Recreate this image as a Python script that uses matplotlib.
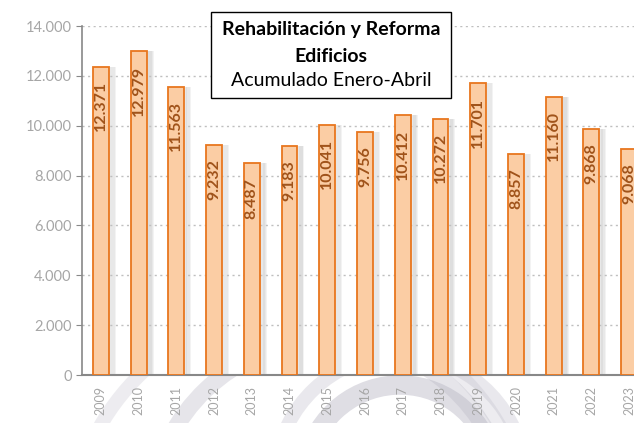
import matplotlib.pyplot as plt
import numpy as np
from matplotlib.ticker import FuncFormatter
from matplotlib.patches import Arc

years = ['2009', '2010', '2011', '2012', '2013', '2014', '2015', '2016',
         '2017', '2018', '2019', '2020', '2021', '2022', '2023']
values = [12371, 12979, 11563, 9232, 8487, 9183, 10041, 9756,
          10412, 10272, 11701, 8857, 11160, 9868, 9068]

plt.rcParams['font.family'] = ['Lato', 'DejaVu Sans']

fig = plt.figure(figsize=(6.34, 4.23), dpi=100)

# marca de agua gris bajo el eje
for (cx, cy, r, lw, a) in [(400, 480, 95, 14, 0.45), (400, 480, 125, 10, 0.30),
                           (330, 520, 180, 12, 0.35), (300, 540, 230, 10, 0.25)]:
    fig.patches.append(Arc((cx/634, 1 - cy/423), 2*r/634, 2*r/423, theta1=20, theta2=170,
                           transform=fig.transFigure, color='#B8B6C4', alpha=a,
                           linewidth=lw, zorder=-1))

ax = fig.add_axes([82/634, 48/423, 566/634, 349/423])
ax.set_facecolor('white')

x = np.arange(len(years))
w = 0.42

# sombra a la derecha
for k in range(6):
    ax.bar(x + w/2 + 0.03 + k*0.025, values, width=0.06, bottom=0,
           color='gray', alpha=0.09, linewidth=0, zorder=1)

ax.bar(x, values, width=w, color='#FBCDA4', edgecolor='#E8761E',
       linewidth=1.3, zorder=3)

for xi, v in zip(x, values):
    s = '{:,}'.format(v).replace(',', '.')
    ax.text(xi, v - 570, s, rotation=90, ha='center', va='top',
            fontsize=11.5, fontweight='bold', color='#A0531A', zorder=4)

ax.set_xlim(-0.5, len(years) - 0.5)
ax.set_ylim(0, 14000)
ax.set_yticks(range(0, 14001, 2000))
ax.yaxis.set_major_formatter(FuncFormatter(lambda v, p: '{:,}'.format(int(v)).replace(',', '.')))
ax.set_xticks(x)
ax.set_xticklabels(years, rotation=90, fontsize=9, color='#A6A6A6')
ax.tick_params(axis='y', labelsize=10.5, labelcolor='#A6A6A6', color='#888888', length=4)
ax.tick_params(axis='x', length=0, pad=8)
ax.grid(axis='y', linestyle=(0, (1.5, 2.5)), color='#BFBFBF', linewidth=1, zorder=0)

for s in ['top', 'right']:
    ax.spines[s].set_visible(False)
ax.spines['left'].set_color('#888888')
ax.spines['bottom'].set_color('#888888')
ax.spines['left'].set_linewidth(1.2)
ax.spines['bottom'].set_linewidth(1.5)

# caja del título
fig.patches.append(plt.Rectangle((211/634, 1 - 98/423), 240/634, 86/423,
                                 transform=fig.transFigure, facecolor='white',
                                 edgecolor='black', linewidth=1, zorder=10))
fig.text(331/634, 1 - 30/423, 'Rehabilitación y Reforma', ha='center', va='center',
         fontsize=14, fontweight='bold', zorder=11)
fig.text(331/634, 1 - 56/423, 'Edificios', ha='center', va='center',
         fontsize=14, fontweight='bold', zorder=11)
fig.text(331/634, 1 - 81/423, 'Acumulado Enero-Abril', ha='center', va='center',
         fontsize=14, zorder=11)

fig.savefig('out.png', dpi=100)
